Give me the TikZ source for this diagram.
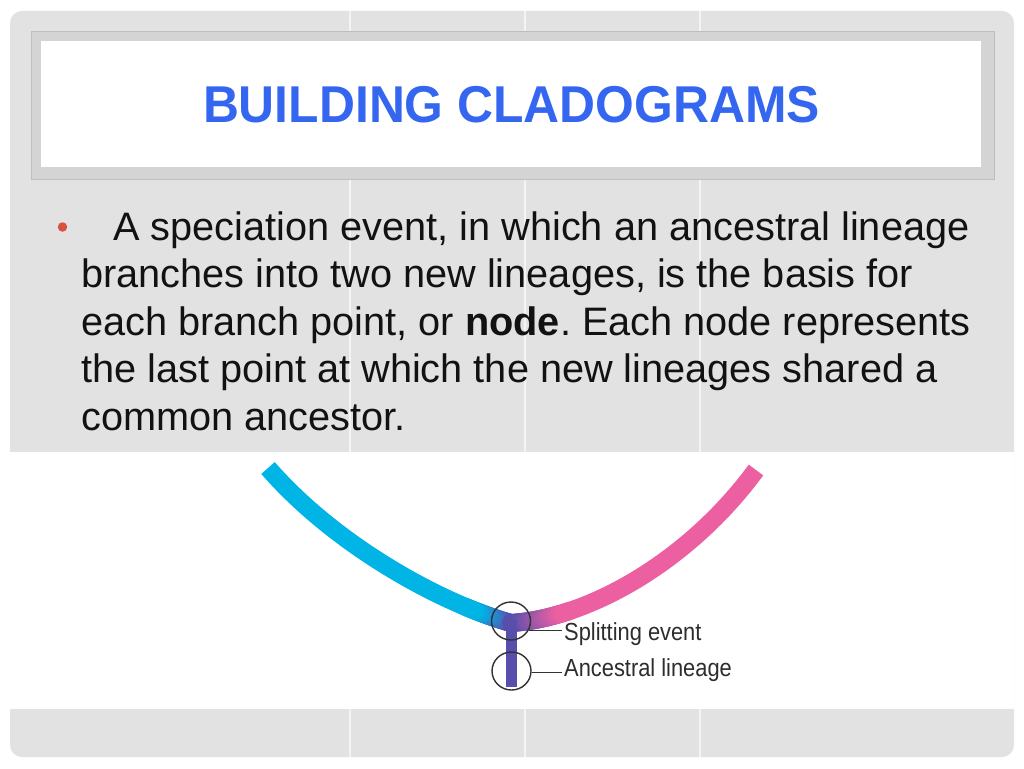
\documentclass[tikz,border=0pt]{standalone}
\usepackage{fontspec}
\setmainfont{Liberation Sans}
\usepackage{graphicx}
\usetikzlibrary{shapes.geometric}
\definecolor{bgGray}{RGB}{226,226,226}
\definecolor{bandGray}{RGB}{212,212,212}
\definecolor{edgeGray}{RGB}{190,190,190}
\definecolor{seamC}{RGB}{244,244,244}
\definecolor{titleBlue}{RGB}{52,102,240}
\definecolor{bulletRed}{RGB}{214,82,62}
\definecolor{cyanC}{RGB}{0,180,230}
\definecolor{pinkC}{RGB}{236,96,162}
\definecolor{purpC}{RGB}{88,78,172}
\definecolor{ringC}{RGB}{50,50,50}
\definecolor{labC}{RGB}{45,45,45}
\tikzset{
  bodytext/.style={anchor=base west, inner sep=0pt, font=\fontsize{39.7}{47.5}\selectfont, text=black!93},
  bandline/.style={line width=18pt},
  ring/.style={ellipse, draw=ringC, line width=1.4pt, inner sep=0pt, minimum width=39pt, minimum height=38pt},
  lbl/.style={anchor=base west, inner sep=0pt, text=labC, font=\fontsize{23.5}{26}\selectfont},
  leader/.style={draw=ringC, line width=1.1pt}
}
\frenchspacing
\begin{document}
\begin{tikzpicture}[x=1pt,y=-1pt]
\useasboundingbox (0,0) rectangle (1024,768);
\fill[white] (0,0) rectangle (1024,768);
% slide background
\fill[bgGray, rounded corners=12pt] (10,11) rectangle (1014,757);
\foreach \sx in {350,525,700} { \draw[seamC, line width=1.3pt] (\sx,11) -- (\sx,757); }
% picture band
\fill[white] (10,452) rectangle (1014,709);
% title box
\fill[bandGray] (31,32) rectangle (994,179);
\draw[edgeGray, line width=1pt] (31,32) rectangle (994,179);
\fill[white] (41,41) rectangle (981,167);
\node[anchor=base, inner sep=0pt, text=titleBlue, font=\fontsize{49.8}{56}\selectfont\bfseries] (title) at (511.5,122) {\scalebox{1}[1.04]{BUILDING CLADOGRAMS}};
% bullet text
\node[circle, fill=bulletRed, inner sep=0pt, minimum size=9.5pt] (bul) at (62.5,227) {};
\node[bodytext] (t1) at (113,240) {A speciation event, in which an ancestral lineage};
\node[bodytext] (t2) at (81,287.5) {branches into two new lineages, is the basis for};
\node[bodytext] (t3) at (81,335) {each branch point, or \textbf{node}. Each node represents};
\node[bodytext] (t4) at (81,382.5) {the last point at which the new lineages shared a};
\node[bodytext] (t5) at (81,430) {common ancestor.};
% cladogram
\coordinate (J) at (511,623);
\coordinate (L0) at (268,468);
\coordinate (L1) at (335,545);
\coordinate (L2) at (440,603);
\coordinate (R0) at (756,470);
\coordinate (R1) at (590,618);
\coordinate (R2) at (690,560);
\draw[bandline, cyanC] (J) .. controls (L2) and (L1) .. (L0);
\draw[bandline, pinkC] (J) .. controls (R1) and (R2) .. (R0);
\path (J) .. controls (L2) and (L1) .. (L0)
  \foreach \i [evaluate=\i as \p using \i/100] in {0,...,20} { coordinate[pos=\p] (la\i) };
\path (J) .. controls (R1) and (R2) .. (R0)
  \foreach \i [evaluate=\i as \p using \i/100] in {0,...,24} { coordinate[pos=\p] (ra\i) };
\foreach \i in {0,...,19} {
  \pgfmathtruncatemacro\j{\i+1}
  \pgfmathtruncatemacro\m{max(0,min(100,(16-\i)*100/13))}
  \draw[bandline, line cap=round, draw=purpC!\m!cyanC] (la\i) -- (la\j);
}
\foreach \i in {0,...,23} {
  \pgfmathtruncatemacro\j{\i+1}
  \pgfmathtruncatemacro\m{max(0,min(100,(21-\i)*100/18))}
  \draw[bandline, line cap=round, draw=purpC!\m!pinkC] (ra\i) -- (ra\j);
}
\fill[purpC] (506,620) rectangle (517,687);
\node[ring] (c1) at (511,621) {};
\node[ring] (c2) at (511.5,671) {};
\node[lbl] (lab1) at (564,640) {\scalebox{0.93}[1.05]{Splitting event}};
\node[lbl] (lab2) at (564,676) {\scalebox{0.93}[1.05]{Ancestral lineage}};
\draw[leader] (c1.-28) -- ([xshift=-2pt]lab1.west |- c1.-28);
\draw[leader] (c2.-5) -- ([xshift=-2pt]lab2.west |- c2.-5);
\end{tikzpicture}
\end{document}
